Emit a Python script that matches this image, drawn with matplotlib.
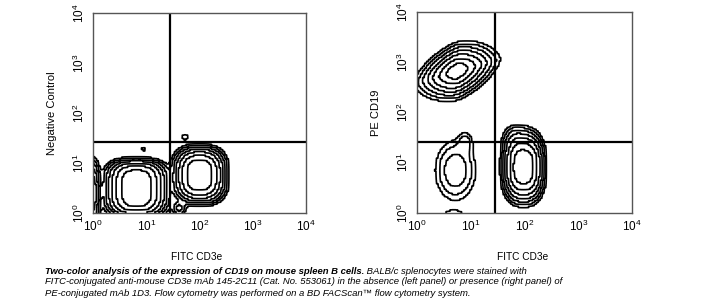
import numpy as np
import matplotlib
matplotlib.use("Agg")
import matplotlib.pyplot as plt

plt.rcParams['font.family'] = ['Liberation Sans', 'DejaVu Sans']
plt.rcParams['mathtext.fontset'] = 'custom'
plt.rcParams['mathtext.rm'] = 'Liberation Sans'
plt.rcParams['mathtext.it'] = 'Liberation Sans:italic'

# ---- data (log10 units of fluorescence) ----
decades = [0, 1, 2, 3, 4]
tick_labels = [r'$10^{%d}$' % d for d in decades]
quad_x = 28      # FITC gate
quad_y = 26      # PE gate

# left panel populations (negative control)
left_cx = [0.82, 2.00, -0.05, 1.62, 1.73, 0.95]
left_cy = [0.50, 0.76, 0.40, 0.10, 1.52, 1.28]
left_sx = [0.27, 0.23, 0.10, 0.07, 0.05, 0.05]
left_sy = [0.36, 0.30, 0.35, 0.08, 0.05, 0.05]
left_tilt = [0.0, 0.0, 0.0, 0.0, 0.0, 0.0]
left_px = [2.5, 2.5, 2.5, 2.0, 2.0, 2.0]
left_py = [4.0, 3.0, 2.5, 2.0, 2.0, 2.0]
left_w = [1.00, 1.00, 0.30, 0.05, 0.016, 0.012]

# right panel populations (CD19 stained)
right_cx = [0.75, 1.98, 0.72, 1.82, 0.90, 0.68]
right_cy = [2.82, 0.92, 0.85, 1.45, 1.40, -0.10]
right_sx = [0.20, 0.18, 0.19, 0.12, 0.08, 0.14]
right_sy = [0.145, 0.33, 0.30, 0.15, 0.12, 0.10]
right_tilt = [0.30, 0.0, 0.0, 0.0, 0.0, 0.0]
right_px = [1.6, 2.5, 2.0, 2.0, 2.0, 2.0]
right_py = [1.6, 2.5, 2.0, 2.0, 2.0, 2.0]
right_w = [1.00, 1.00, 0.07, 0.05, 0.03, 0.03]

levels_frac = [0.01, 0.02, 0.04, 0.08, 0.16, 0.32, 0.60]
channels = 110

caption_bold = "Two-color analysis of the expression of CD19 on mouse spleen B cells."
caption_1 = " BALB/c splenocytes were stained with"
caption_2 = ("FITC-conjugated anti-mouse CD3e mAb 145-2C11 (Cat. No. 553061) in the absence "
             "(left panel) or presence (right panel) of")
caption_3 = "PE-conjugated mAb 1D3. Flow cytometry was performed on a BD FACScan\u2122 flow cytometry system."


def density(cx, cy, sx, sy, tilt, px, py, w):
    edges = np.linspace(0, 4, channels + 1)
    centers = 0.5 * (edges[:-1] + edges[1:])
    X, Y = np.meshgrid(centers, centers)
    Z = np.zeros_like(X)
    for a, b, c, d, t, ppx, ppy, ww in zip(cx, cy, sx, sy, tilt, px, py, w):
        u = X - a
        v = (Y - b) - t * u
        Z += ww * np.exp(-0.5 * (np.abs(u) / c) ** ppx - 0.5 * (np.abs(v) / d) ** ppy)
    # blocky channel histogram look
    k = 3
    Zb = np.kron(Z, np.ones((k, k)))
    fine = np.linspace(0, 4, channels * k)
    FX, FY = np.meshgrid(fine, fine)
    return 10 ** FX, 10 ** FY, Zb


fig = plt.figure(figsize=(7.22, 3.06), dpi=100)
W, H = 722, 306

def make_ax(l, r, t, b):
    return fig.add_axes([l / W, 1 - b / H, (r - l) / W, (b - t) / H])

axL = make_ax(93, 306, 13, 213)
axR = make_ax(417, 632, 12, 213)

panels = [
    (axL, (left_cx, left_cy, left_sx, left_sy, left_tilt, left_px, left_py, left_w), "Negative Control"),
    (axR, (right_cx, right_cy, right_sx, right_sy, right_tilt, right_px, right_py, right_w), "PE CD19"),
]
for ax, pars, ylabel in panels:
    X, Y, Z = density(*pars)
    lev = [f * Z.max() for f in levels_frac]
    ax.contour(X, Y, Z, levels=lev, colors='black', linewidths=1.2)
    ax.set_xscale('log')
    ax.set_yscale('log')
    ax.set_xlim(1, 1e4)
    ax.set_ylim(1, 1e4)
    ax.set_xticks([10 ** d for d in decades])
    ax.set_yticks([10 ** d for d in decades])
    ax.set_xticklabels(tick_labels, fontsize=8.5)
    ax.set_yticklabels(tick_labels, fontsize=8.5, rotation=90, va='center')
    ax.minorticks_off()
    ax.tick_params(axis='x', length=0, pad=4)
    ax.tick_params(axis='y', length=0, pad=4)
    for s in ax.spines.values():
        s.set_color('#555555')
        s.set_linewidth(1.0)
    ax.axvline(quad_x, color='black', lw=1.6)
    ax.axhline(quad_y, color='black', lw=1.6)
    ax.set_ylabel(ylabel, fontsize=8, labelpad=11)

fig.text(197 / W, 1 - 257 / H, "FITC CD3e", fontsize=7.3, ha='center', va='center')
fig.text(523 / W, 1 - 257 / H, "FITC CD3e", fontsize=7.3, ha='center', va='center')

fs = 6.8
t1 = fig.text(45 / W, 1 - 271 / H, caption_bold, fontsize=fs, style='italic', weight='bold', va='center')
fig.canvas.draw()
bb = t1.get_window_extent()
fig.text(bb.x1 / W, 1 - 271 / H, caption_1, fontsize=fs, style='italic', va='center')
fig.text(45 / W, 1 - 282 / H, caption_2, fontsize=fs, style='italic', va='center')
fig.text(45 / W, 1 - 293 / H, caption_3, fontsize=fs, style='italic', va='center')

fig.savefig("out.png", dpi=100)
